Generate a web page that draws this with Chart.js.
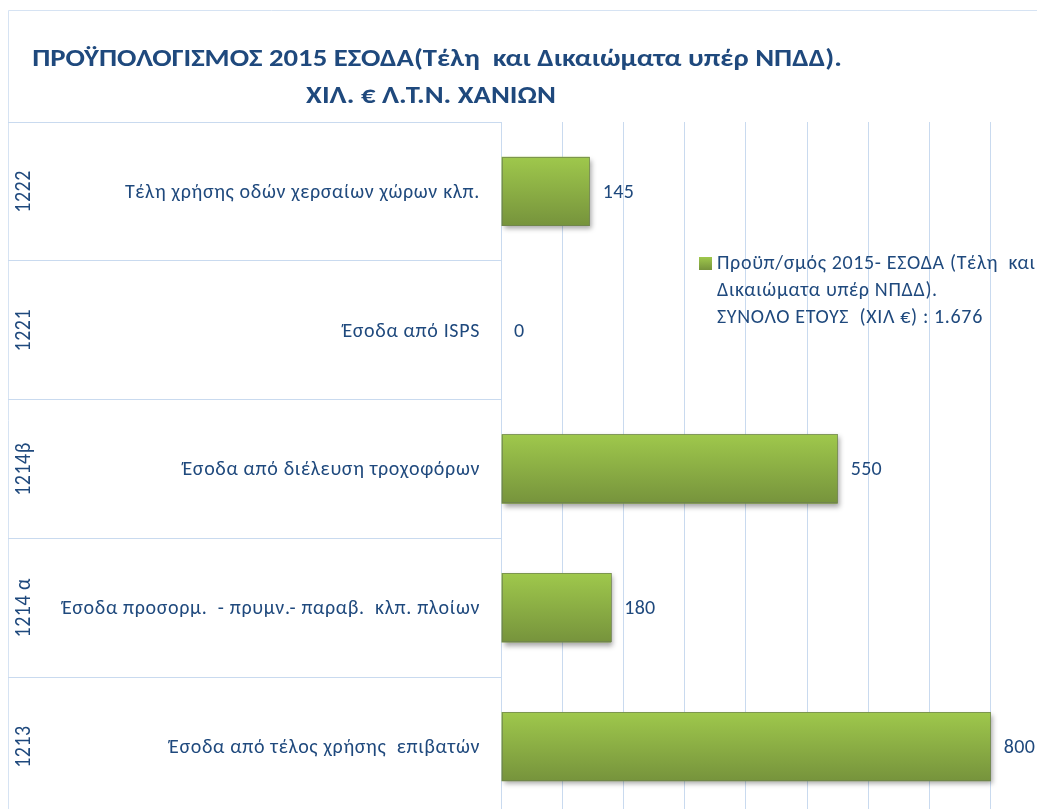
<!DOCTYPE html>
<html>
<head>
<meta charset="utf-8">
<title>ΠΡΟΫΠΟΛΟΓΙΣΜΟΣ 2015 ΕΣΟΔΑ - Λ.Τ.Ν. ΧΑΝΙΩΝ</title>
<script src="https://cdn.jsdelivr.net/npm/chart.js@4.4.1/dist/chart.umd.min.js"></script>
<style>
  body { margin: 0; background: #fff; }
  #marco { width: 1037px; height: 809px; overflow: hidden; position: relative; }
  #grafico { position: absolute; left: 0; top: 0; }
</style>
</head>
<body>
<div id="marco">
  <canvas id="grafico" width="1060" height="830"></canvas>
</div>
<script>
// Datos
const codigos = ['1222', '1221', '1214β', '1214 α', '1213'];
const descripciones = [
  'Τέλη χρήσης οδών χερσαίων χώρων κλπ.',
  'Έσοδα από ISPS',
  'Έσοδα από διέλευση τροχοφόρων',
  'Έσοδα προσορμ.  - πρυμν.- παραβ.  κλπ. πλοίων',
  'Έσοδα από τέλος χρήσης  επιβατών'
];
const valores = [145, 0, 550, 180, 800];
const tituloLineas = [
  'ΠΡΟΫΠΟΛΟΓΙΣΜΟΣ 2015 ΕΣΟΔΑ(Τέλη  και Δικαιώματα υπέρ ΝΠΔΔ).',
  'ΧΙΛ. € Λ.Τ.Ν. ΧΑΝΙΩΝ'
];
const leyendaLineas = [
  'Προϋπ/σμός 2015- ΕΣΟΔΑ (Τέλη  και',
  'Δικαιώματα υπέρ ΝΠΔΔ).',
  'ΣΥΝΟΛΟ ΕΤΟΥΣ  (ΧΙΛ €) : 1.676'
];

const azul = '#1f497d';
const lineaClara = '#c9daef';
const fuente = 'Carlito, Calibri, "Open Sans", sans-serif';

// Degradado verde de cada barra
const degradadoVerde = (ctx, y1, y2) => {
  const g = ctx.createLinearGradient(0, y1, 0, y2);
  g.addColorStop(0, '#9fc84c');
  g.addColorStop(1, '#76933c');
  return g;
};

// Texto con alineacion vertical segun la altura de las cifras
const texto = (ctx, str, x, yCentro, size, align, espacio) => {
  ctx.textAlign = align;
  ctx.textBaseline = 'alphabetic';
  ctx.letterSpacing = espacio + 'px';
  ctx.fillText(str, x, yCentro + size * 0.32);
};

// El titulo del original aparece algo ensanchado
const textoAncho = (ctx, str, xCentro, yCentro, size, escala) => {
  ctx.save();
  ctx.translate(xCentro, 0);
  ctx.scale(escala, 1);
  texto(ctx, str, 0, yCentro, size, 'center', 0);
  ctx.restore();
};

const pluginDecoracion = {
  id: 'decoracion',
  beforeDraw(chart) {
    const { ctx } = chart;
    ctx.save();
    ctx.strokeStyle = '#d6e3f3';
    ctx.lineWidth = 1;
    ctx.beginPath();
    ctx.moveTo(8.5, chart.height);
    ctx.lineTo(8.5, 10.5);
    ctx.lineTo(chart.width, 10.5);
    ctx.stroke();
    ctx.restore();
  },
  // Sombra de las barras, como en Excel
  beforeDatasetDraw(chart) {
    const { ctx } = chart;
    ctx.save();
    ctx.shadowColor = 'rgba(0, 0, 0, 0.35)';
    ctx.shadowBlur = 5;
    ctx.shadowOffsetX = 2;
    ctx.shadowOffsetY = 3;
  },
  afterDatasetDraw(chart) {
    chart.ctx.restore();
  },
  afterDatasetsDraw(chart) {
    const { ctx } = chart;
    ctx.save();
    const meta = chart.getDatasetMeta(0);

    // Borde fino de cada barra
    ctx.strokeStyle = 'rgba(110, 128, 80, 0.7)';
    ctx.lineWidth = 1;
    meta.data.forEach((barra) => {
      const { x, y, base, height } = barra.getProps(['x', 'y', 'base', 'height']);
      if (x - base < 1) return;
      ctx.strokeRect(Math.round(base) + 0.5, Math.round(y - height / 2) + 0.5,
        Math.round(x - base) - 1, Math.round(height) - 1);
    });

    // Valores al final de cada barra
    ctx.fillStyle = azul;
    ctx.font = `20px ${fuente}`;
    meta.data.forEach((barra, i) => {
      texto(ctx, String(valores[i]), barra.x + 13, barra.y, 20, 'left', 0.3);
    });

    // Etiquetas del eje de categorias (descripcion y codigo)
    const escalaY = chart.scales.y;
    codigos.forEach((codigo, i) => {
      const y = escalaY.getPixelForValue(i);
      ctx.font = `20px ${fuente}`;
      texto(ctx, descripciones[i], 480, y, 20, 'right', 0.65);
      ctx.save();
      ctx.translate(30, y);
      ctx.rotate(-Math.PI / 2);
      ctx.scale(1, 1.12);
      texto(ctx, codigo, 0, -6.4, 20, 'center', 0.5);
      ctx.restore();
    });

    // Titulo
    ctx.font = `bold 24px ${fuente}`;
    textoAncho(ctx, tituloLineas[0], 437, 58, 24, 1.195);
    textoAncho(ctx, tituloLineas[1], 431, 95.5, 24, 1.195);

    // Leyenda
    ctx.fillStyle = degradadoVerde(ctx, 257, 270);
    ctx.fillRect(699, 257, 13, 13);
    ctx.fillStyle = azul;
    ctx.font = `20px ${fuente}`;
    leyendaLineas.forEach((linea, i) => {
      texto(ctx, linea, 717, 263 + i * 27, 20, 'left', 0.65);
    });
    ctx.restore();
  }
};

const chart = new Chart(document.getElementById('grafico'), {
  type: 'bar',
  data: {
    labels: codigos,
    datasets: [{
      label: leyendaLineas.join(' '),
      data: valores,
      backgroundColor: (c) => {
        const escalaY = c.chart.scales.y;
        if (!c.chart.chartArea || !escalaY || c.dataIndex === undefined) return '#8db446';
        const y = escalaY.getPixelForValue(c.dataIndex);
        const mitad = escalaY.height / codigos.length * 0.25;
        if (!isFinite(y) || !isFinite(mitad)) return '#8db446';
        return degradadoVerde(c.chart.ctx, y - mitad, y + mitad);
      },
      // Sin borde propio: con borde Chart.js recorta la barra y se pierde la sombra
      borderWidth: 0,
      barPercentage: 0.5,
      categoryPercentage: 1
    }]
  },
  options: {
    indexAxis: 'y',
    responsive: false,
    animation: false,
    events: [],
    layout: { padding: { left: 8, right: 8, top: 122, bottom: 14 } },
    scales: {
      x: {
        min: 0,
        max: 900,
        ticks: { display: false, stepSize: 100 },
        grid: { color: lineaClara, drawTicks: false },
        border: { display: false }
      },
      y: {
        ticks: { display: false },
        grid: {
          offset: true,
          drawOnChartArea: false,
          drawTicks: true,
          tickLength: 493,
          color: lineaClara
        },
        border: { display: true, color: lineaClara },
        afterFit: (escala) => { escala.width = 493; }
      }
    },
    plugins: {
      legend: { display: false },
      title: { display: false },
      tooltip: { enabled: false }
    }
  },
  plugins: [pluginDecoracion]
});
</script>
</body>
</html>
